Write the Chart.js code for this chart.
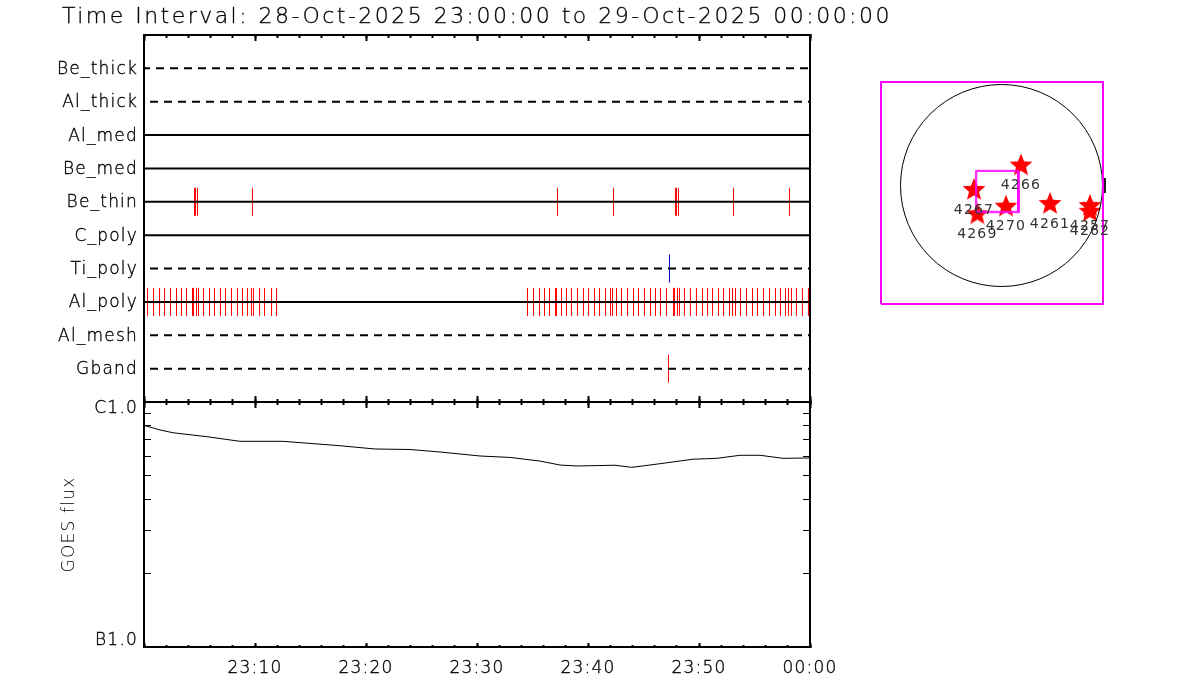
<!DOCTYPE html>
<html>
<head>
<meta charset="utf-8">
<title>Time Interval</title>
<script src="https://cdn.jsdelivr.net/npm/chart.js@4"></script>
<style>
  body { margin: 0; background: #fff; width: 1200px; height: 700px; overflow: hidden; position: relative; }
  canvas { position: absolute; }
  #title { position: absolute; left: 62px; top: 3px; font: 200 22px "DejaVu Sans"; letter-spacing: 2.47px; color: #000; white-space: nowrap; will-change: transform; -webkit-text-stroke: 0.3px #000; }
</style>
</head>
<body>
<div id="title">Time Interval: 28-Oct-2025 23:00:00 to 29-Oct-2025 00:00:00</div>
<canvas id="events" width="840" height="420" style="left:0;top:0"></canvas>
<canvas id="goes" width="860" height="305" style="left:0;top:395px"></canvas>
<canvas id="map" width="340" height="260" style="left:860px;top:60px"></canvas>
<script>
// Channels, top to bottom
const rowNames = ["Be_thick", "Al_thick", "Al_med", "Be_med", "Be_thin", "C_poly", "Ti_poly", "Al_poly", "Al_mesh", "Gband"];
const dashedRows = ["Be_thick", "Al_thick", "Ti_poly", "Al_mesh", "Gband"];

// Exposure times, minutes after 23:00
const beThinTimes = [4.55, 4.64, 4.82, 9.77, 37.25, 42.30, 47.88, 47.97, 48.15, 53.11, 58.15];
const tiPolyTimes = [47.34];
const gbandTimes = [47.25];
const alPolyTimes = [
  0.32, 0.86, 1.40, 1.85, 2.39, 2.93, 3.38, 3.83, 4.37, 4.46, 4.73, 4.91, 5.36, 5.90, 6.35, 6.89, 7.34, 7.88,
  8.42, 8.87, 9.32, 9.68, 9.86, 10.41, 10.86, 11.49, 11.94,
  34.55, 35.09, 35.63, 36.08, 36.53, 37.07, 37.16, 37.61, 38.06, 38.51, 39.05, 39.59, 40.05, 40.59, 41.04, 41.58,
  42.03, 42.21, 42.57, 43.02, 43.56, 44.10, 44.55, 45.09, 45.63, 46.08, 46.53, 47.07, 47.70, 47.79, 48.06, 48.24,
  48.69, 49.23, 49.77, 50.32, 50.77, 51.22, 51.76, 52.21, 52.75, 53.02, 53.29, 53.74, 54.28, 54.82, 55.27, 55.81,
  56.35, 56.89, 57.34, 57.79, 58.06, 58.33, 58.78, 59.32, 59.86
];

// Time axis
const timeLabels = ["", "23:10", "23:20", "23:30", "23:40", "23:50", "00:00"];

// GOES flux, units of 1e-7 W/m2
const goesTimes = [0, 1.44, 2.61, 5.65, 8.65, 12.52, 17.66, 20.81, 23.96, 26.67, 30.27, 32.97, 35.68, 37.48, 39.0, 42.43, 43.94, 46.49, 49.46, 51.62, 53.69, 55.5, 57.57, 60];
const goesFlux = [8.03, 7.69, 7.49, 7.22, 6.91, 6.91, 6.63, 6.43, 6.40, 6.25, 6.02, 5.94, 5.74, 5.53, 5.48, 5.52, 5.41, 5.60, 5.84, 5.89, 6.06, 6.06, 5.89, 5.91];
const fluxTicks = [1, 2, 3, 4, 5, 6, 7, 8, 9, 10];

// Active regions on the disc, arcsec
const regionNames = ["4266", "4267", "4269", "4270", "4261", "4257", "4262"];
const regionX = [187, -264, -232, 43, 466, 850, 850];
const regionY = [192, -43, -277, -204, -178, -197, -252];

// Map frame and pointing boxes, arcsec
const mapX = [-1157.5, 975];
const mapY = [-1138, 994];
const boxAX = [-248, 156];
const boxAY = [146, -248];
const boxBX = [-238, 168];
const boxBY = [136, -261];
const limbMarkX = [994, 994];
const limbMarkY = [72, -72];

const FONT = "DejaVu Sans";
const labelFont = { family: FONT, size: 17, weight: "200", lineHeight: 0.8 };
const inkTicks = { color: "#000", font: labelFont, textStrokeColor: "#000", textStrokeWidth: 0.35 };
const spacing = { id: "spacing", beforeDraw: (chart) => { chart.ctx.letterSpacing = "1.2px"; } };

// Axis that only draws its border and inward ticks
function edgeAxis(axis, position, size, extra) {
  return Object.assign({
    axis: axis,
    position: position,
    afterFit: (s) => {
      if (axis === "x") s.height = size; else s.width = size;
      s.paddingTop = s.paddingBottom = s.paddingLeft = s.paddingRight = 0;
    },
    grid: { drawOnChartArea: false, drawTicks: false, color: "#000", tickWidth: 2 },
    border: { display: true, color: "#000", width: 2 },
    ticks: Object.assign({ display: false, autoSkip: false, maxRotation: 0 }, inkTicks)
  }, extra);
}

function timeAxis(position, step, len, size, ticks, weight) {
  const a = edgeAxis("x", position, size, { min: 0, max: 60, weight: weight || 0 });
  a.grid = Object.assign({}, a.grid, { drawTicks: true, tickLength: -len });
  a.ticks = Object.assign({}, a.ticks, { stepSize: step }, ticks);
  return a;
}

function rowSeries(name, times, color) {
  const row = rowNames.indexOf(name) + 1;
  return {
    data: times.map((t) => ({ x: t, y: row })),
    showLine: false,
    pointStyle: "line",
    rotation: 90,
    pointRadius: 14,
    pointBorderWidth: 1,
    pointBorderColor: color
  };
}

const rowLines = rowNames.map((name, i) => {
  const dashed = dashedRows.includes(name);
  return {
    data: [{ x: 0, y: i + 1 }, { x: 60, y: i + 1 }],
    showLine: true,
    pointRadius: 0,
    borderColor: "#000",
    borderWidth: 2,
    borderDash: dashed ? [8, 6] : [],
    borderDashOffset: name === "Be_thick" ? 2 : 8
  };
});

new Chart(document.getElementById("events"), {
  type: "scatter",
  plugins: [spacing],
  data: {
    datasets: rowLines.concat([
      rowSeries("Be_thin", beThinTimes, "#ff0000"),
      rowSeries("Ti_poly", tiPolyTimes, "#0000cc"),
      rowSeries("Al_poly", alPolyTimes, "#ff0000"),
      rowSeries("Gband", gbandTimes, "#ff0000")
    ])
  },
  options: {
    responsive: false,
    animation: false,
    events: [],
    layout: { autoPadding: false, padding: { left: 0, right: 30, top: 35, bottom: 18 } },
    plugins: { legend: { display: false }, tooltip: { enabled: false } },
    scales: {
      x: timeAxis("bottom", 10, 6, 0),
      xMinor: timeAxis("bottom", 2, 3, 0),
      xTop: timeAxis("top", 10, 6, 0),
      xTopMinor: timeAxis("top", 2, 3, 0),
      y: edgeAxis("y", "left", 144, {
        min: 0, max: 11, reverse: true,
        ticks: Object.assign({
          stepSize: 1, autoSkip: false, padding: 6, labelOffset: 1,
          callback: (v) => rowNames[v - 1] || ""
        }, inkTicks)
      }),
      yRight: edgeAxis("y", "right", 0, { min: 0, max: 11, reverse: true })
    }
  }
});

function fluxAxis(position, size, ticks, extra) {
  const a = edgeAxis("y", position, size, {
    type: "logarithmic", min: 1, max: 10,
    afterBuildTicks: (s) => { s.ticks = fluxTicks.map((v) => ({ value: v })); }
  });
  a.grid = { drawOnChartArea: false, drawTicks: true, tickLength: -7, color: "#000", tickWidth: 1 };
  a.ticks = ticks;
  return Object.assign(a, extra);
}

new Chart(document.getElementById("goes"), {
  type: "scatter",
  plugins: [spacing],
  data: {
    datasets: [{
      data: goesTimes.map((t, i) => ({ x: t, y: goesFlux[i] })),
      showLine: true,
      pointRadius: 0,
      borderColor: "#000",
      borderWidth: 1
    }]
  },
  options: {
    responsive: false,
    animation: false,
    events: [],
    layout: { autoPadding: false, padding: { left: 0, right: 50, top: 7, bottom: 13 } },
    plugins: { legend: { display: false }, tooltip: { enabled: false } },
    scales: {
      x: timeAxis("bottom", 10, 4, 40, {
        display: true, padding: 19,
        callback: (v) => timeLabels[v / 10] || ""
      }),
      xMinor: timeAxis("bottom", 2, 2, 0, {}, -1),
      xTop: timeAxis("top", 10, 6, 0),
      xTopMinor: timeAxis("top", 2, 3, 0),
      y: fluxAxis("left", 144, Object.assign({
        autoSkip: false, padding: 13,
        callback: (v) => (v === 10 ? ["", "C1.0"] : v === 1 ? ["B1.0", ""] : "")
      }, inkTicks), {
        title: { display: true, text: "GOES flux", color: "#000", font: { family: FONT, size: 17, weight: "200" }, padding: { top: 59, bottom: 0 } }
      }),
      yRight: fluxAxis("right", 0, { display: false, autoSkip: false })
    }
  }
});

// Filled five pointed star for the region markers
function makeStar(size) {
  const c = document.createElement("canvas");
  c.width = c.height = size;
  const g = c.getContext("2d");
  g.fillStyle = "#ff0000";
  g.beginPath();
  for (let i = 0; i < 10; i++) {
    const r = i % 2 ? size * 0.22 : size / 2;
    const a = -Math.PI / 2 + i * Math.PI / 5;
    g.lineTo(size / 2 + r * Math.cos(a), size / 2 + r * Math.sin(a));
  }
  g.closePath();
  g.fill();
  return c;
}

function rect(xs, ys) {
  return [
    { x: xs[0], y: ys[0] }, { x: xs[1], y: ys[0] }, { x: xs[1], y: ys[1] },
    { x: xs[0], y: ys[1] }, { x: xs[0], y: ys[0] }
  ];
}

function mapLine(points, color, width) {
  return { data: points, showLine: true, pointRadius: 0, borderColor: color, borderWidth: width, clip: false };
}

// Region numbers under the stars
const regionLabels = {
  id: "regionLabels",
  afterDatasetsDraw(chart) {
    const { ctx, scales } = chart;
    ctx.save();
    ctx.font = "14px " + FONT;
    ctx.fillStyle = "#333";
    ctx.textAlign = "center";
    ctx.textBaseline = "middle";
    regionNames.forEach((name, i) => {
      ctx.fillText(name, scales.x.getPixelForValue(regionX[i]), scales.y.getPixelForValue(regionY[i]) + 20);
    });
    ctx.restore();
  }
};

new Chart(document.getElementById("map"), {
  type: "scatter",
  plugins: [spacing, regionLabels],
  data: {
    datasets: [
      mapLine(rect(mapX, mapY), "#ff00ff", 2),
      mapLine(rect(boxAX, boxAY), "#ff00ff", 1),
      mapLine(rect(boxBX, boxBY), "#ff00ff", 1),
      mapLine(limbMarkX.map((x, i) => ({ x: x, y: limbMarkY[i] })), "#000", 1),
      {
        data: [{ x: 0, y: 0 }],
        showLine: false,
        pointRadius: 101,
        pointBorderWidth: 1,
        pointBorderColor: "#000",
        pointBackgroundColor: "rgba(0,0,0,0)",
        clip: false
      },
      {
        data: regionNames.map((n, i) => ({ x: regionX[i], y: regionY[i] })),
        showLine: false,
        pointStyle: makeStar(24),
        pointRadius: 12
      }
    ]
  },
  options: {
    responsive: false,
    animation: false,
    events: [],
    layout: { autoPadding: false, padding: { left: 21, right: 97, top: 22, bottom: 16 } },
    plugins: { legend: { display: false }, tooltip: { enabled: false } },
    scales: {
      x: { display: false, min: mapX[0], max: mapX[1] },
      y: { display: false, min: mapY[0], max: mapY[1] }
    }
  }
});
</script>
</body>
</html>
